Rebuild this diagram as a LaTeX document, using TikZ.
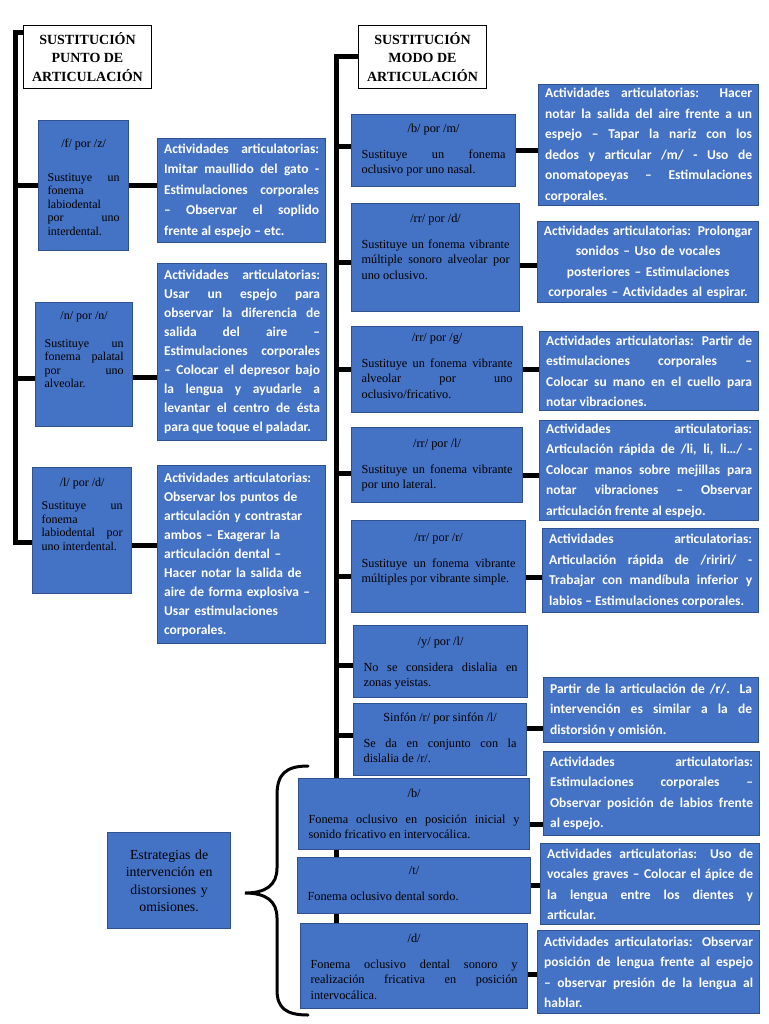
\documentclass[tikz,border=0pt]{standalone}
\usepackage{fontspec}
\setmainfont{Liberation Serif}
\newfontfamily\actfont{Carlito}
\usetikzlibrary{positioning}
\definecolor{boxblue}{HTML}{4472C4}
\definecolor{boxedge}{HTML}{2F528F}
\hyphenpenalty=10000
\exhyphenpenalty=10000
\tolerance=10000
\newcommand{\fonhead}[2][10pt]{{\centering #2\par}\vspace{#1}}

\begin{document}
\begin{tikzpicture}[x=1pt, y=-1pt,
  titlebox/.style={draw=black, line width=1pt, fill=white, anchor=north west,
    align=center, inner sep=0pt, minimum width=128pt, minimum height=63pt,
    font=\bfseries\fontsize{14}{18.5}\selectfont},
  fonbox/.style={draw=boxedge, line width=1.2pt, fill=boxblue, anchor=north west,
    align=justify, inner xsep=10pt, inner ysep=0pt,
    font=\fontsize{12.3}{15.5}\selectfont},
  fonleft/.style={fonbox, inner xsep=9pt, font=\fontsize{12}{13.5}\selectfont},
  actbox/.style={draw=boxedge, line width=1.2pt, fill=boxblue, text=white,
    anchor=north west, align=justify, inner xsep=6.5pt, inner ysep=3pt,
    font=\actfont\bfseries\fontsize{13.5}{20.5}\selectfont},
  tight/.style={font=\actfont\bfseries\fontsize{13.5}{19}\selectfont},
  estbox/.style={draw=boxedge, line width=1.2pt, fill=boxblue, anchor=north west,
    align=center, inner xsep=6.5pt, font=\fontsize{13.8}{17.5}\selectfont},
  bar/.style={line width=5pt},
  brace/.style={line width=3pt, line cap=round}
]
\path[use as bounding box, fill=white] (0,0) rectangle (768,1024);
\coordinate (lbar) at (15,0);
\coordinate (rbar) at (336,0);

% sustitucion punto de articulacion
\node[titlebox] (tpa) at (23,25) {SUSTITUCIÓN\\PUNTO DE\\ARTICULACIÓN};
\node[fonleft, text width=72pt, text height=27pt, text depth=103pt] (f) at (38,120)
  {\fonhead[20pt]{/f/ por /z/}Sustituye un\linebreak fonema\linebreak labiodental\linebreak por uno\linebreak interdental.};
\node[fonleft, text width=79pt, text height=17pt, text depth=107pt] (n) at (35,302)
  {\fonhead[14pt]{/n/ por /n/}Sustituye un\linebreak fonema palatal\linebreak por uno\linebreak alveolar.};
\node[fonleft, text width=81pt, text height=19pt, text depth=107pt] (l) at (32,467)
  {\fonhead[9.5pt]{/l/ por /d/}Sustituye un\linebreak fonema\linebreak labiodental por\linebreak uno interdental.};
\node[actbox, text width=155pt, minimum height=104pt] (actf) at (157,138)
  {Actividades articulatorias:\linebreak Imitar maullido del gato -\linebreak Estimulaciones corporales\linebreak – Observar el soplido\linebreak frente al espejo – etc.};
\node[actbox, tight, text width=156pt, minimum height=177pt] (actn) at (157,263)
  {Actividades articulatorias:\linebreak Usar un espejo para\linebreak observar la diferencia de\linebreak salida del aire –\linebreak Estimulaciones corporales\linebreak – Colocar el depresor bajo\linebreak la lengua y ayudarle a\linebreak levantar el centro de ésta\linebreak para que toque el paladar.};
\node[actbox, tight, align=left, text width=155pt, minimum height=178pt] (actl) at (157,465)
  {Actividades articulatorias:\\Observar los puntos de\\articulación y contrastar\\ambos – Exagerar la\\articulación dental –\\Hacer notar la salida de\\aire de forma explosiva –\\Usar estimulaciones\\corporales.};

\draw[bar] ([yshift=-8pt]tpa.north west) -| ([yshift=-12pt]l.west -| lbar) -- ([yshift=-12pt]l.west);
\draw[bar] (f.west) -- (f.west -| lbar);
\draw[bar] ([yshift=-14pt]n.west) -- ([yshift=-14pt]n.west -| lbar);
\draw[bar] (f.east) -- (f.east -| actf.west);
\draw[bar] ([yshift=-13pt]n.east) -- ([yshift=-13pt]n.east -| actn.west);
\draw[bar] ([yshift=-15pt]l.east) -- ([yshift=-15pt]l.east -| actl.west);

% sustitucion modo de articulacion
\node[titlebox] (tma) at (358,25) {SUSTITUCIÓN\\MODO DE\\ARTICULACIÓN};
\node[fonbox, text width=144pt, text height=18pt, text depth=54pt] (bm) at (351,114)
  {\fonhead{/b/ por /m/}Sustituye un fonema\linebreak oclusivo por uno nasal.};
\node[fonbox, text width=148pt, text height=19pt, text depth=89pt] (rd) at (351,203)
  {\fonhead{/rr/ por /d/}Sustituye un fonema vibrante\linebreak múltiple sonoro alveolar por\linebreak uno oclusivo.};
\node[fonbox, text width=151pt, text height=15pt, text depth=71pt] (rg) at (351,326)
  {\fonhead{/rr/ por /g/}Sustituye un fonema vibrante\linebreak alveolar por uno\linebreak oclusivo/fricativo.};
\node[fonbox, text width=151pt, text height=20pt, text depth=55pt] (rl) at (351,427)
  {\fonhead{/rr/ por /l/}Sustituye un fonema vibrante\linebreak por uno lateral.};
\node[fonbox, text width=154pt, text height=21pt, text depth=71pt] (rr) at (351,520)
  {\fonhead{/rr/ por /r/}Sustituye un fonema vibrante\linebreak múltiples por vibrante simple.};
\node[fonbox, text width=154pt, text height=20pt, text depth=52pt] (yl) at (353,625)
  {\fonhead{/y/ por /l/}No se considera dislalia en\linebreak zonas yeistas.};
\node[fonbox, text width=153pt, text height=18pt, text depth=54pt] (sinf) at (353,703)
  {\fonhead{Sinfón /r/ por sinfón /l/}Se da en conjunto con la\linebreak dislalia de /r/.};

\node[actbox, text width=207pt, minimum height=121pt] (actbm) at (538,84)
  {Actividades articulatorias: Hacer\linebreak notar la salida del aire frente a un\linebreak espejo – Tapar la nariz con los\linebreak dedos y articular /m/ - Uso de\linebreak onomatopeyas – Estimulaciones\linebreak corporales.};
\node[actbox, align=center, inner xsep=2pt, text width=217pt, minimum height=81pt] (actrd) at (537,221)
  {Actividades articulatorias: Prolongar\\sonidos – Uso de vocales\\posteriores – Estimulaciones\\corporales – Actividades al espirar.};
\node[actbox, text width=206pt, minimum height=79pt] (actrg) at (539,331)
  {Actividades articulatorias: Partir de\linebreak estimulaciones corporales –\linebreak Colocar su mano en el cuello para\linebreak notar vibraciones.};
\node[actbox, text width=206pt, minimum height=98pt] (actrl) at (539,420)
  {Actividades articulatorias:\linebreak Articulación rápida de /li, li, li…/ -\linebreak Colocar manos sobre mejillas para\linebreak notar vibraciones – Observar\linebreak articulación frente al espejo.};
\node[actbox, text width=203pt, minimum height=84pt] (actrr) at (542,528)
  {Actividades articulatorias:\linebreak Articulación rápida de /ririri/ -\linebreak Trabajar con mandíbula inferior y\linebreak labios – Estimulaciones corporales.};
\node[actbox, text width=202pt, minimum height=65pt] (actsinf) at (543,677)
  {Partir de la articulación de /r/. La\linebreak intervención es similar a la de\linebreak distorsión y omisión.};

% distorsiones y omisiones
\node[estbox, text width=110pt, minimum height=96pt] (estr) at (107,832)
  {Estrategias de\\intervención en\\distorsiones y\\omisiones.};
\node[fonbox, text width=211pt, text height=19pt, text depth=52pt] (db) at (298,778)
  {\fonhead{/b/}Fonema oclusivo en posición inicial y\linebreak sonido fricativo en intervocálica.};
\node[fonbox, text width=213pt, text height=17pt, text depth=39pt] (dt) at (297,857)
  {\fonhead{/t/}Fonema oclusivo dental sordo.};
\node[fonbox, text width=207pt, text height=19pt, text depth=66pt] (dd) at (300,923)
  {\fonhead{/d/}Fonema oclusivo dental sonoro y\linebreak realización fricativa en posición\linebreak intervocálica.};
\node[actbox, text width=203pt, minimum height=84pt] (actdb) at (543,751)
  {Actividades articulatorias:\linebreak Estimulaciones corporales –\linebreak Observar posición de labios frente\linebreak al espejo.};
\node[actbox, text width=206pt, minimum height=81pt] (actdt) at (540,843)
  {Actividades articulatorias: Uso de\linebreak vocales graves – Colocar el ápice de\linebreak la lengua entre los dientes y\linebreak articular.};
\node[actbox, text width=209pt, minimum height=83pt] (actdd) at (537,930)
  {Actividades articulatorias: Observar\linebreak posición de lengua frente al espejo\linebreak – observar presión de la lengua al\linebreak hablar.};

\draw[bar] (tma.west) -| (db.north -| rbar);
\draw[bar] ([yshift=4pt]bm.west) -- ([yshift=4pt]bm.west -| rbar);
\draw[bar] ([yshift=-5pt]rd.west) -- ([yshift=-5pt]rd.west -| rbar);
\draw[bar] (rg.west) -- (rg.west -| rbar);
\draw[bar] ([yshift=-8pt]rl.west) -- ([yshift=-8pt]rl.west -| rbar);
\draw[bar] ([yshift=-10pt]rr.west) -- ([yshift=-10pt]rr.west -| rbar);
\draw[bar] ([yshift=-4pt]yl.west) -- ([yshift=-4pt]yl.west -| rbar);
\draw[bar] ([yshift=4pt]sinf.west) -- ([yshift=4pt]sinf.west -| rbar);
\draw[bar] (bm.east) -- (bm.east -| actbm.west);
\draw[bar] ([yshift=-8pt]rd.east) -- ([yshift=-8pt]rd.east -| actrd.west);
\draw[bar] (rg.east) -- (rg.east -| actrg.west);
\draw[bar] ([yshift=-10pt]rl.east) -- ([yshift=-10pt]rl.east -| actrl.west);
\draw[bar] ([yshift=-11pt]rr.east) -- ([yshift=-11pt]rr.east -| actrr.west);
\draw[bar] ([yshift=11pt]sinf.east) -- ([yshift=11pt]sinf.east -| actsinf.west);
\draw[bar] (db.south -| rbar) -- (dt.north -| rbar);
\draw[bar] (dt.south -| rbar) -- (dd.north -| rbar);
\draw[bar] ([yshift=-10pt]db.east) -- ([yshift=-10pt]db.east -| actdb.west);
\draw[bar] (dt.east) -- (dt.east -| actdt.west);
\draw[bar] ([yshift=-8pt]dd.east) -- ([yshift=-8pt]dd.east -| actdd.west);
\draw[brace] (308,766) .. controls (286,766) and (277,774) .. (277,795) -- (277,868)
  .. controls (277,885) and (266,893) .. (245,893)
  .. controls (266,893) and (277,901) .. (277,918) -- (277,990)
  .. controls (277,1008) and (286,1015) .. (308,1015);
\end{tikzpicture}
\end{document}
